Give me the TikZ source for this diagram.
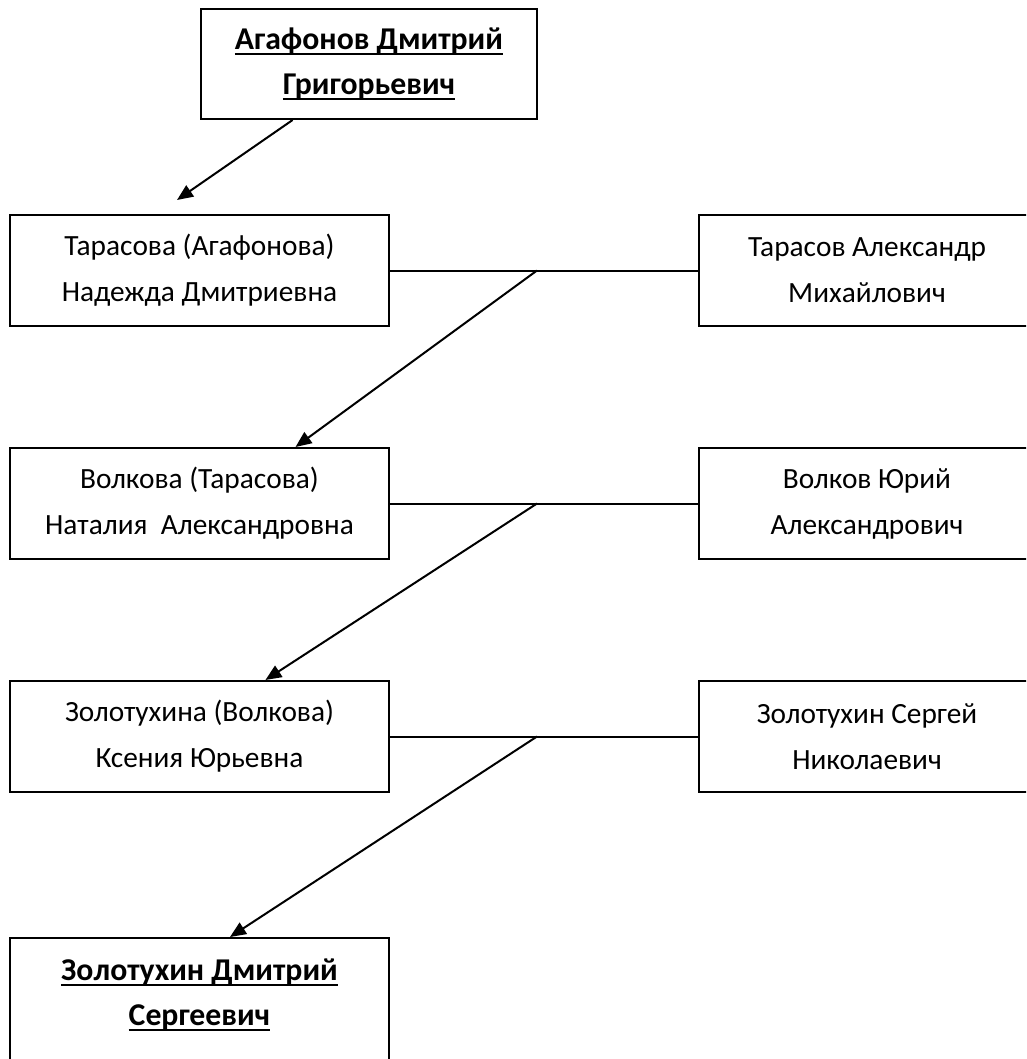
\documentclass[tikz,border=0pt]{standalone}
\usepackage{fontspec}
\setmainfont{Carlito}
\usetikzlibrary{arrows.meta,calc}
\newcommand{\myul}[1]{\setbox0\hbox{#1}\rlap{\rule[-4.5pt]{\wd0}{1.5pt}}\box0}
\begin{document}
\begin{tikzpicture}[x=0.75pt,y=-0.75pt,
 box/.style={draw,line width=1.5pt,inner sep=0pt,align=center,font=\fontsize{22pt}{34.5pt}\selectfont},
 lbox/.style={box,minimum width=284.25pt,minimum height=83.25pt},
 rbox/.style={box,minimum width=252pt,minimum height=83.25pt},
 boldtext/.style={font=\fontsize{23.8pt}{33.5pt}\selectfont\bfseries},
 tbox/.style={box,boldtext,minimum width=252pt,minimum height=82.5pt},
 link/.style={line width=1.5pt},
 arr/.style={line width=1.5pt,-{Triangle[length=12pt,width=10pt]}}]
\useasboundingbox (0,0) rectangle (1026,1059);
\clip (0,0) rectangle (1026,1059);
\node[tbox] (a) at (369,64) {\myul{Агафонов Дмитрий}\\\myul{Григорьевич}};
\node[lbox] (l1) at (199.5,270.5) {Тарасова (Агафонова)\\Надежда Дмитриевна};
\node[rbox] (r1) at (867,270.5) {Тарасов Александр\\Михайлович};
\node[lbox] (l2) at (199.5,503.5) {Волкова (Тарасова)\\Наталия\ \ Александровна};
\node[rbox] (r2) at (867,503.5) {Волков Юрий\\Александрович};
\node[lbox] (l3) at (199.5,736.5) {Золотухина (Волкова)\\Ксения Юрьевна};
\node[rbox] (r3) at (867,736.5) {Золотухин Сергей\\Николаевич};
\node[lbox,boldtext,minimum height=102.75pt,text depth=22pt] (b) at (199.5,1006.5) {\myul{Золотухин Дмитрий}\\\myul{Сергеевич}};
\coordinate (t0) at (177,200);
\draw[arr] ($(a.south west)!0.274!(a.south east)$) -- (t0);
\draw[link] (l1) -- (r1);
\draw[link] (l2) -- (r2);
\draw[link] (l3) -- (r3);
\coordinate (m1) at (537,270.5);
\coordinate (m2) at (537,503.5);
\coordinate (m3) at (537,736.5);
\draw[arr] (m1) -- ($(l2.north west)!0.752!(l2.north east)$);
\draw[arr] (m2) -- ($(l3.north west)!0.673!(l3.north east)$);
\draw[arr] (m3) -- ($(b.north west)!0.580!(b.north east)$);
\end{tikzpicture}
\end{document}
